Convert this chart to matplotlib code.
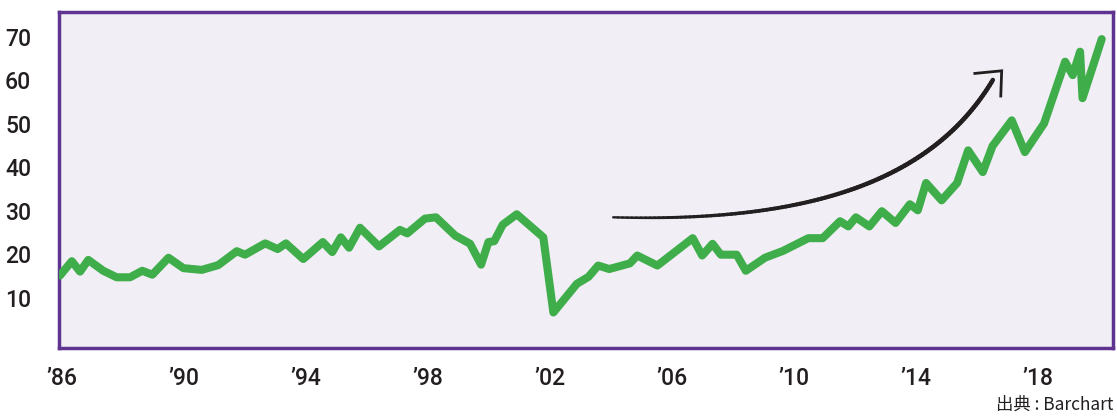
import numpy as np
import matplotlib
matplotlib.use('Agg')
import matplotlib.pyplot as plt
from matplotlib.collections import LineCollection

# price series (year, value)
years = [1985.93, 1986.32, 1986.59, 1986.86, 1987.35, 1987.79, 1988.23, 1988.63, 1988.96, 1989.49,
         1989.98, 1990.58, 1991.12, 1991.73, 1992.00, 1992.66, 1993.07, 1993.34, 1993.91, 1994.55,
         1994.86, 1995.14, 1995.41, 1995.77, 1996.39, 1997.08, 1997.32, 1997.90, 1998.26, 1998.89,
         1999.38, 1999.74, 1999.98, 2000.17, 2000.45, 2000.91, 2001.78, 2002.11, 2002.88, 2003.26,
         2003.58, 2003.94, 2004.62, 2004.86, 2005.52, 2006.68, 2006.99, 2007.33, 2007.60, 2008.12,
         2008.42, 2009.05, 2009.65, 2010.47, 2010.94, 2011.51, 2011.78, 2012.03, 2012.47, 2012.88,
         2013.33, 2013.80, 2014.06, 2014.33, 2014.84, 2015.35, 2015.71, 2016.19, 2016.51, 2017.14,
         2017.57, 2018.20, 2018.89, 2019.14, 2019.38, 2019.46, 2020.09]
values = [15.1, 18.4, 16.0, 18.7, 16.2, 14.7, 14.7, 16.2, 15.3, 19.2,
          16.8, 16.4, 17.5, 20.7, 19.9, 22.5, 21.2, 22.5, 18.9, 22.8,
          20.5, 23.9, 21.5, 26.1, 21.8, 25.6, 24.8, 28.2, 28.5, 24.3,
          22.4, 17.6, 22.8, 23.0, 26.8, 29.2, 23.9, 6.6, 13.2, 14.8,
          17.4, 16.6, 17.9, 19.7, 17.4, 23.7, 19.7, 22.4, 19.9, 19.9,
          16.2, 19.2, 20.8, 23.7, 23.7, 27.6, 26.4, 28.5, 26.4, 29.9,
          27.2, 31.5, 30.1, 36.4, 32.4, 36.4, 43.9, 38.9, 44.9, 50.8,
          43.5, 50.1, 64.3, 61.2, 66.6, 55.9, 69.5]

y_ticks = [10, 20, 30, 40, 50, 60, 70]
x_ticks = [1986, 1990, 1994, 1998, 2002, 2006, 2010, 2014, 2018]
x_labels = ["\u201986", "\u201990", "\u201994", "\u201998", "\u201902", "\u201906", "\u201910", "\u201914", "\u201918"]

# hand drawn trend arrow: cubic bezier control points and head (year, value)
arrow_ctrl = [(2004.07, 28.5), (2010.2, 27.3), (2014.46, 35.8), (2016.52, 60.1)]
arrow_head = [(2015.93, 61.6), (2016.81, 62.2), (2016.78, 56.4)]

green = '#3FAE4A'
purple = '#5E3490'
bg = '#F1EEF6'
ink = '#231F20'

fig = plt.figure(figsize=(11.17, 4.16), dpi=100)
ax = fig.add_axes([59/1117, 1 - 347.7/416, (1113-59)/1117, (347.7-11.7)/416])
ax.set_facecolor(bg)

ax.plot(years, values, color=green, lw=5.8, solid_joinstyle='round', solid_capstyle='round', zorder=3)

# arrow body, tapered
p = np.array(arrow_ctrl)
t = np.linspace(0, 1, 120)[:, None]
curve = ((1-t)**3)*p[0] + 3*((1-t)**2)*t*p[1] + 3*(1-t)*(t**2)*p[2] + (t**3)*p[3]
segs = np.stack([curve[:-1], curve[1:]], axis=1)
widths = 0.9 + 2.4*np.sin(np.linspace(0.15, 1.9, len(segs)))**0.6
ax.add_collection(LineCollection(segs, linewidths=widths, colors=ink, capstyle='round', zorder=4))
hx, hy = zip(*arrow_head)
ax.plot(hx, hy, color=ink, lw=2.0, solid_joinstyle='miter', zorder=4)

ax.set_xlim(1985.9, 2020.46)
ax.set_ylim(-1.5, 75.8)
ax.set_yticks(y_ticks)
ax.set_xticks(x_ticks)
ax.set_xticklabels(x_labels)
ax.tick_params(length=0, labelsize=16.5, labelcolor=ink)
ax.tick_params(axis='y', pad=20)
ax.tick_params(axis='x', pad=14)
for lab in ax.get_xticklabels() + ax.get_yticklabels():
    lab.set_family('Roboto')
    lab.set_fontweight('medium')

for s in ax.spines.values():
    s.set_color(purple)
    s.set_linewidth(2.5)

fig.text(1113/1117, 1 - 405/416, '出典 : Barchart', ha='right', va='center', fontsize=12.5,
         color=ink, family=['Noto Sans CJK JP', 'DejaVu Sans'])

plt.savefig('out.png', dpi=100)
